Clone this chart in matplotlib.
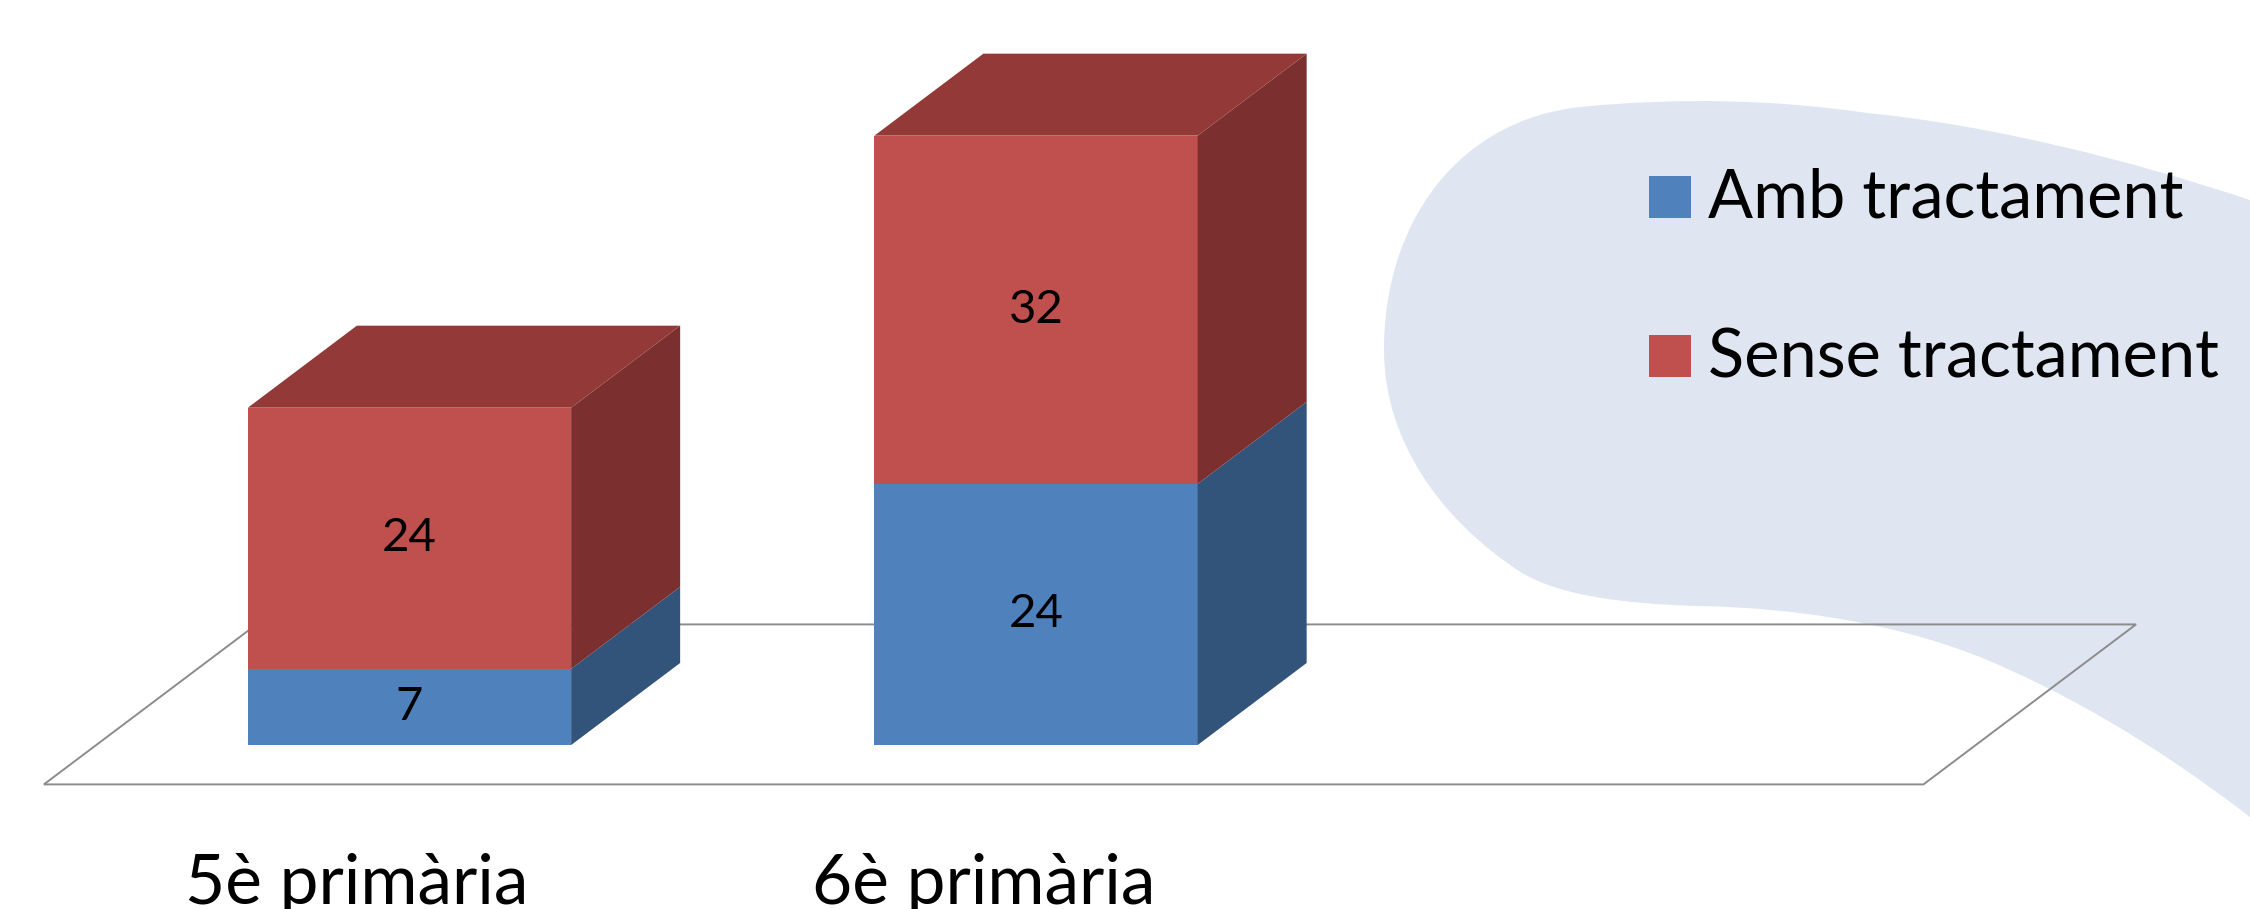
import matplotlib
matplotlib.use("Agg")
import matplotlib.pyplot as plt
from matplotlib.patches import Polygon, PathPatch, Rectangle
from matplotlib.path import Path

# ---- data ----
categories = ["5è primària", "6è primària"]
series_names = ["Amb tractament", "Sense tractament"]
amb = [7, 24]
sense = [24, 32]

# ---- styles ----
front_cols = ["#4f81bd", "#c0504d"]
side_cols = ["#32537a", "#7b2f2f"]
top_cols = ["#3f6797", "#933a39"]
FONT = ["Lato", "DejaVu Sans"]

fig = plt.figure(figsize=(22.5, 9.09), dpi=100)

# background decoration (pixel coordinates)
bg = fig.add_axes([0, 0, 1, 1])
bg.set_xlim(0, 2250)
bg.set_ylim(909, 0)
bg.axis("off")
verts = [(1384, 350),
         (1384, 220), (1460, 120), (1580, 107),
         (1680, 97), (1780, 100), (1867, 113),
         (1990, 125), (2130, 160), (2250, 200),
         (2250, 817),
         (2150, 740), (2060, 690), (1980, 657),
         (1900, 625), (1800, 608), (1700, 606),
         (1620, 604), (1560, 595), (1522, 573),
         (1440, 520), (1384, 440), (1384, 350),
         (1384, 350)]
codes = [Path.MOVETO] + [Path.CURVE4] * 9 + [Path.LINETO] + [Path.CURVE4] * 12 + [Path.CLOSEPOLY]
bg.add_patch(PathPatch(Path(verts, codes), facecolor="#dfe6f1", edgecolor="none"))

# legend (manual)
for i, name in enumerate(series_names):
    yc = 197 + i * 159
    bg.add_patch(Rectangle((1649, yc - 21), 42, 42, facecolor=front_cols[i], edgecolor="none"))
    bg.text(1708, yc + 2, name, fontsize=48, family=FONT, va="center", ha="left", color="black")

# main chart axes
ax = fig.add_axes([0, 0, 1, 1], facecolor="none")
ax.set_xlim(-0.6536, 2.9377)
ax.set_ylim(-15.07, 68.47)
ax.axis("off")

width = 0.516
dx, dy = 0.174, 7.54
f, D = 0.48, 1.95
n_slots = len(categories) + 1

# floor
fl = [(-0.5 - f * dx, -f * dy), (n_slots - 0.5 - f * dx, -f * dy),
      (n_slots - 0.5 + (D - f) * dx, (D - f) * dy), (-0.5 + (D - f) * dx, (D - f) * dy)]
ax.add_patch(Polygon(fl, closed=True, facecolor="none", edgecolor="#8c8c8c", lw=1.4, zorder=1))

xs = list(range(len(categories)))
series = [amb, sense]
bottoms = [0] * len(categories)
for s, vals in enumerate(series):
    ax.bar(xs, vals, width=width, bottom=bottoms, color=front_cols[s], zorder=3, linewidth=0)
    for i, (x, v) in enumerate(zip(xs, vals)):
        b = bottoms[i]
        t = b + v
        xr = x + width / 2
        xl = x - width / 2
        ax.add_patch(Polygon([(xr, b), (xr + dx, b + dy), (xr + dx, t + dy), (xr, t)],
                             closed=True, facecolor=side_cols[s], edgecolor="none", zorder=3))
        if s == len(series) - 1:
            ax.add_patch(Polygon([(xl, t), (xl + dx, t + dy), (xr + dx, t + dy), (xr, t)],
                                 closed=True, facecolor=top_cols[s], edgecolor="none", zorder=3))
        ax.text(x, b + v / 2, str(v), fontsize=34, family=FONT, ha="center", va="center",
                color="black", zorder=5)
    bottoms = [bb + vv for bb, vv in zip(bottoms, vals)]

for x, c in zip(xs, categories):
    ax.text(x - f * dx, -14.6, c, fontsize=50, family=FONT, ha="center", va="baseline", color="black")

fig.savefig("out.png", dpi=100)
